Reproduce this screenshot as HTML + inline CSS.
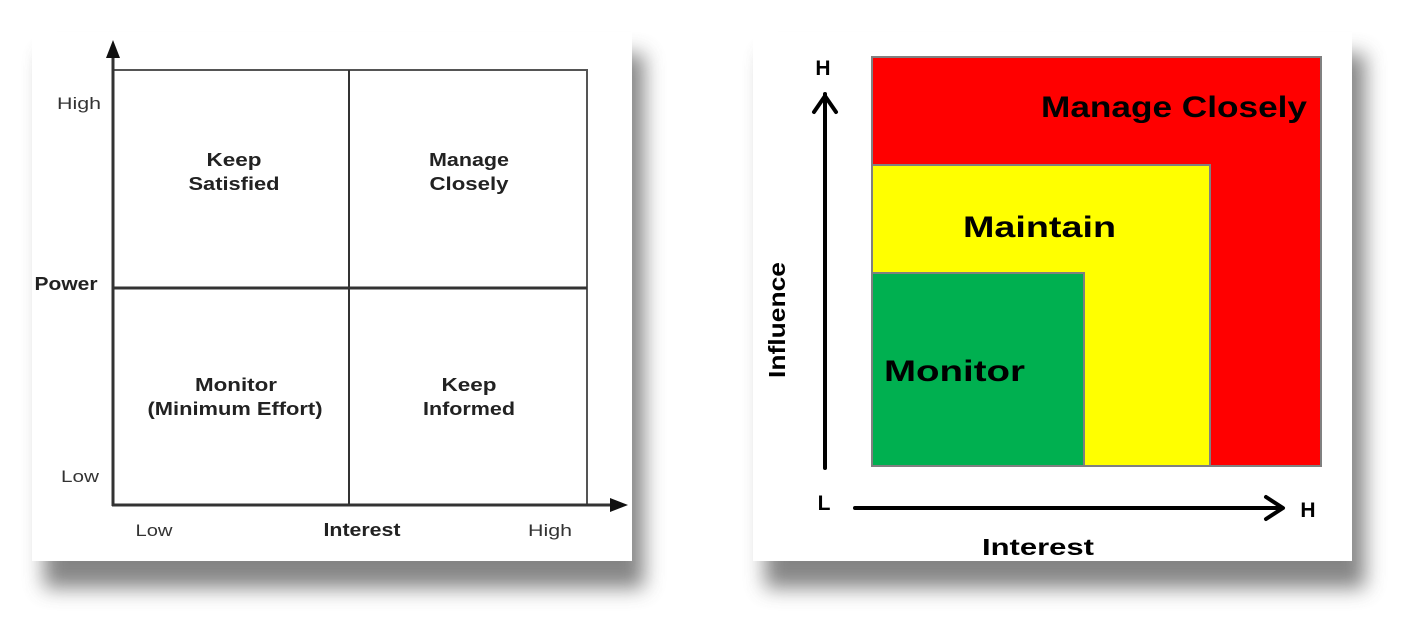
<!DOCTYPE html>
<html><head><meta charset="utf-8"><style>
html,body{margin:0;padding:0;background:#fff;}
svg{display:block;}
</style></head><body>
<svg width="1417" height="627" viewBox="0 0 1417 627" xmlns="http://www.w3.org/2000/svg" font-family="Liberation Sans, sans-serif">
<defs>
<filter id="sh" x="-10%" y="-10%" width="130%" height="130%">
<feGaussianBlur stdDeviation="10"/>
</filter>
</defs>
<rect x="44" y="54" width="600" height="534" fill="#666" filter="url(#sh)" opacity="0.8"/>
<rect x="765" y="54" width="600" height="534" fill="#666" filter="url(#sh)" opacity="0.8"/>
<rect x="32" y="32" width="600" height="529" fill="#fff"/>
<rect x="753" y="32" width="599" height="529" fill="#fff"/>

<g stroke="#333" fill="none">
<rect x="113" y="70" width="474" height="435" stroke-width="2" stroke="#555"/>
<line x1="349" y1="70" x2="349" y2="505" stroke-width="2"/>
<line x1="113" y1="288" x2="587" y2="288" stroke-width="3"/>
<line x1="113" y1="50" x2="113" y2="506" stroke-width="3"/>
<line x1="112" y1="505" x2="615" y2="505" stroke-width="3"/>
</g>
<polygon points="113,40 106,58 120,58" fill="#111"/>
<polygon points="628,505 610,498 610,512" fill="#111"/>
<g fill="#333" font-size="17" text-anchor="middle">
<text x="79" y="109" textLength="44" lengthAdjust="spacingAndGlyphs">High</text>
<text x="80" y="482" textLength="38" lengthAdjust="spacingAndGlyphs">Low</text>
<text x="154" y="536" textLength="37" lengthAdjust="spacingAndGlyphs">Low</text>
<text x="550" y="536" textLength="44" lengthAdjust="spacingAndGlyphs">High</text>
</g>
<g fill="#222" font-size="18" font-weight="bold" text-anchor="middle">
<text x="66" y="290" textLength="63" lengthAdjust="spacingAndGlyphs">Power</text>
<text x="362" y="536" textLength="77" lengthAdjust="spacingAndGlyphs">Interest</text>
<text x="234" y="166" textLength="55" lengthAdjust="spacingAndGlyphs">Keep</text>
<text x="234" y="190" textLength="91" lengthAdjust="spacingAndGlyphs">Satisfied</text>
<text x="469" y="166" textLength="80" lengthAdjust="spacingAndGlyphs">Manage</text>
<text x="469" y="190" textLength="79" lengthAdjust="spacingAndGlyphs">Closely</text>
<text x="236" y="391" textLength="82" lengthAdjust="spacingAndGlyphs">Monitor</text>
<text x="235" y="415" textLength="175" lengthAdjust="spacingAndGlyphs">(Minimum Effort)</text>
<text x="469" y="391" textLength="55" lengthAdjust="spacingAndGlyphs">Keep</text>
<text x="469" y="415" textLength="92" lengthAdjust="spacingAndGlyphs">Informed</text>
</g>

<rect x="872" y="57" width="449" height="409" fill="#ff0000" stroke="#808080" stroke-width="2"/>
<rect x="872" y="165" width="338" height="301" fill="#ffff00" stroke="#808080" stroke-width="2"/>
<rect x="872" y="273" width="212" height="193" fill="#00b050" stroke="#808080" stroke-width="2"/>
<g stroke="#000" stroke-width="4" fill="none" stroke-linecap="round" stroke-linejoin="round">
<line x1="825" y1="468" x2="825" y2="94"/>
<polyline points="814,112 825,96 836,112"/>
<line x1="855" y1="508" x2="1282" y2="508"/>
<polyline points="1266,497 1283,508 1266,519"/>
</g>
<g fill="#000" font-weight="bold">
<text x="823" y="75" font-size="21" text-anchor="middle">H</text>
<text x="824" y="510" font-size="21" text-anchor="middle">L</text>
<text x="1308" y="517" font-size="21" text-anchor="middle">H</text>
<text x="982" y="555" font-size="23" textLength="112" lengthAdjust="spacingAndGlyphs">Interest</text>
<text x="0" y="0" font-size="23" transform="translate(785,378) rotate(-90)" textLength="116" lengthAdjust="spacingAndGlyphs">Influence</text>
<text x="1041" y="117" font-size="30" textLength="266" lengthAdjust="spacingAndGlyphs">Manage Closely</text>
<text x="963" y="237" font-size="30" textLength="153" lengthAdjust="spacingAndGlyphs">Maintain</text>
<text x="884" y="381" font-size="30" textLength="141" lengthAdjust="spacingAndGlyphs">Monitor</text>
</g>
</svg>
</body></html>
